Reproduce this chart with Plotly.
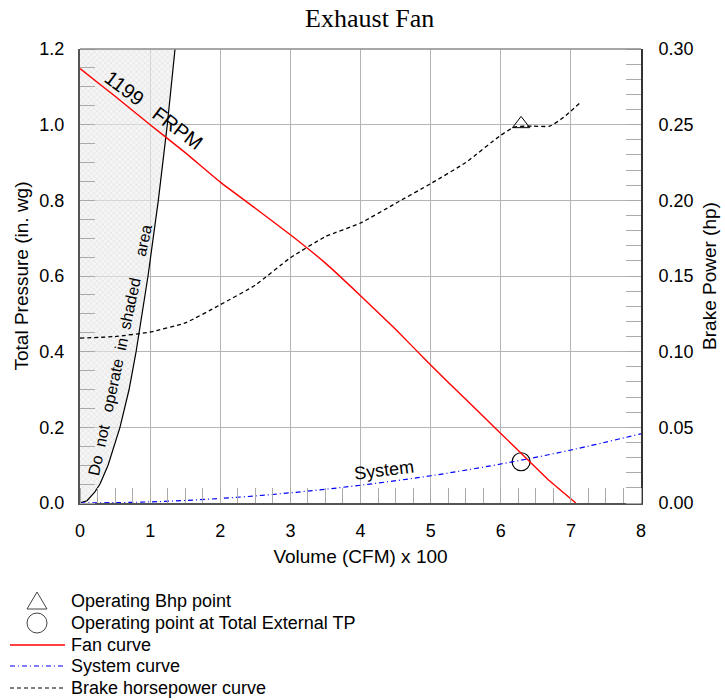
import plotly.graph_objects as go

# ---- data ----
fan_x = [0, 0.5, 1, 1.5, 2, 2.5, 3, 3.5, 4, 4.5, 5, 5.5, 6, 6.4, 6.7, 7.07]
fan_y = [1.148, 1.075, 1.0, 0.926, 0.848, 0.779, 0.709, 0.634, 0.548, 0.459, 0.365, 0.274, 0.184, 0.112, 0.058, 0.0]

sys_x = [0, 1, 2, 3, 4, 5, 6, 7, 8]
sys_y = [0.0, 0.003, 0.012, 0.027, 0.047, 0.072, 0.103, 0.140, 0.183]

bhp_x = [0, 0.5, 1, 1.5, 2, 2.5, 3, 3.5, 4, 4.5, 5, 5.5, 6, 6.2, 6.45, 6.7, 6.9, 7.12]
bhp_y = [0.109, 0.110, 0.113, 0.119, 0.131, 0.144, 0.162, 0.176, 0.185, 0.198, 0.211, 0.225, 0.243, 0.2485, 0.249, 0.249, 0.255, 0.264]

surge_x = [0, 0.1, 0.21, 0.285, 0.4, 0.57, 0.7, 0.8, 0.97, 1.117, 1.245, 1.355]
surge_y = [0, 0.006, 0.029, 0.05, 0.1, 0.2, 0.3, 0.4, 0.6, 0.8, 1.0, 1.2]

op_bhp = (6.29, 0.2505)
op_tp = (6.29, 0.109)

x_ticks = [0, 1, 2, 3, 4, 5, 6, 7, 8]
y_ticks = [0.0, 0.2, 0.4, 0.6, 0.8, 1.0, 1.2]
y2_ticks = [0.0, 0.05, 0.10, 0.15, 0.20, 0.25, 0.30]

legend_labels = ["Operating Bhp point", "Operating point at Total External TP",
                 "Fan curve", "System curve", "Brake horsepower curve"]

FONT = "Liberation Sans, Arial, sans-serif"
AX = "#555555"
GRID = "#b4b4b4"

# plot-area geometry in pixels (for paper-coordinate legend placement)
L, R, T, B = 80, 641, 49, 503
PW, PH = R - L, B - T


def px_x(p):
    return (p - L) / PW


def px_y(p):
    return (B - p) / PH


fig = go.Figure()

# shaded surge region
fig.add_trace(go.Scatter(
    x=surge_x, y=surge_y, mode="lines", fill="tozerox",
    line=dict(color="black", width=1.2),
    fillcolor="rgba(0,0,0,0)",
    fillpattern=dict(shape="x", fgcolor="#c4c4c4", bgcolor="rgba(238,238,238,0.6)", size=4, solidity=0.25),
    showlegend=False, hoverinfo="skip"))

fig.add_trace(go.Scatter(
    x=[op_bhp[0]], y=[op_bhp[1]], yaxis="y2", mode="markers",
    marker=dict(symbol="triangle-up-open", size=15, color="black", line=dict(width=1)),
    name=legend_labels[0], showlegend=False))
fig.add_trace(go.Scatter(
    x=[op_tp[0]], y=[op_tp[1]], mode="markers",
    marker=dict(symbol="circle-open", size=18, color="black", line=dict(width=1.2)),
    name=legend_labels[1], showlegend=False))
fig.add_trace(go.Scatter(
    x=fan_x, y=fan_y, mode="lines", line=dict(color="red", width=1.4, shape="spline", smoothing=0.4),
    name=legend_labels[2], showlegend=False))
fig.add_trace(go.Scatter(
    x=sys_x, y=sys_y, mode="lines", line=dict(color="blue", width=1.2, dash="5px,3px,1px,3px", shape="spline"),
    name=legend_labels[3], showlegend=False))
fig.add_trace(go.Scatter(
    x=bhp_x, y=bhp_y, yaxis="y2", mode="lines",
    line=dict(color="black", width=1.3, dash="4px,3px", shape="spline", smoothing=0.5),
    name=legend_labels[4], showlegend=False))

# ---- manual legend below the chart ----
rows_px = [601, 623, 645, 666, 688]
shapes = []
annotations = []
for lab, ry in zip(legend_labels, rows_px):
    annotations.append(dict(x=px_x(69), y=px_y(ry), xref="paper", yref="paper", text=lab,
                            showarrow=False, xanchor="left", yanchor="middle",
                            font=dict(size=18)))
# triangle symbol
shapes.append(dict(type="path", xref="paper", yref="paper", xsizemode="pixel", ysizemode="pixel",
                   xanchor=px_x(37), yanchor=px_y(rows_px[0]),
                   path="M -10,-8 L 10,-8 L 0,9 Z", line=dict(color="#444444", width=1)))
# circle symbol
shapes.append(dict(type="circle", xref="paper", yref="paper", xsizemode="pixel", ysizemode="pixel",
                   xanchor=px_x(37), yanchor=px_y(rows_px[1]),
                   x0=-10, x1=10, y0=-10, y1=10, line=dict(color="#444444", width=1)))
# line samples
shapes.append(dict(type="line", xref="paper", yref="paper", x0=px_x(10), x1=px_x(65),
                   y0=px_y(rows_px[2]), y1=px_y(rows_px[2]), line=dict(color="red", width=1.4)))
shapes.append(dict(type="line", xref="paper", yref="paper", x0=px_x(10), x1=px_x(65),
                   y0=px_y(rows_px[3]), y1=px_y(rows_px[3]),
                   line=dict(color="blue", width=1.2, dash="5px,3px,1px,3px")))
shapes.append(dict(type="line", xref="paper", yref="paper", x0=px_x(10), x1=px_x(63),
                   y0=px_y(rows_px[4]), y1=px_y(rows_px[4]),
                   line=dict(color="black", width=1.2, dash="4px,3px")))
# lighter top frame line
shapes.append(dict(type="line", xref="paper", yref="paper", x0=0, x1=1, y0=1, y1=1,
                   line=dict(color="#8a8a8a", width=1.5)))

annotations += [
    dict(x=1.05, y=1.04, xref="x", yref="y", text="1199   FRPM", showarrow=False,
         textangle=37, font=dict(size=20)),
    dict(x=0.577, y=0.405, xref="x", yref="y", text="Do  not   operate  in  shaded     area",
         showarrow=False, textangle=-78, font=dict(size=16)),
    dict(x=4.34, y=0.088, xref="x", yref="y", text="System", showarrow=False,
         textangle=-7, font=dict(size=18)),
]

fig.update_layout(
    width=725, height=700,
    margin=dict(l=L, r=725 - R, t=T, b=700 - B, autoexpand=False),
    showlegend=False,
    paper_bgcolor="white", plot_bgcolor="white",
    font=dict(family=FONT, size=18, color="black"),
    title=dict(text="Exhaust Fan", x=0.51, xref="container", y=1 - 18 / 700, yref="container",
               yanchor="middle", font=dict(family="Liberation Serif, Times New Roman, serif", size=26)),
    xaxis=dict(range=[0, 8], tickvals=x_ticks, ticktext=[str(v) for v in x_ticks],
               showgrid=True, gridcolor=GRID, gridwidth=1, zeroline=False,
               showline=True, linecolor=AX, linewidth=2, mirror=False,
               ticks="", ticklabelstandoff=10,
               minor=dict(dtick=0.25, ticks="inside", ticklen=15, tickcolor="#aaaaaa", showgrid=False),
               title=dict(text="Volume (CFM) x 100", font=dict(size=19), standoff=10)),
    yaxis=dict(range=[0, 1.2], tickvals=y_ticks, ticktext=[f"{v:.1f}" for v in y_ticks],
               showgrid=True, gridcolor=GRID, gridwidth=1, zeroline=False,
               showline=True, linecolor=AX, linewidth=2,
               ticks="", ticklabelstandoff=10,
               minor=dict(dtick=0.05, ticks="inside", ticklen=15, tickcolor="#aaaaaa", showgrid=False),
               title=dict(text="Total Pressure (in. wg)", font=dict(size=19), standoff=6)),
    yaxis2=dict(range=[0, 0.3], overlaying="y", side="right", tickvals=y2_ticks,
                ticktext=[f"{v:.2f}" for v in y2_ticks], showgrid=False, zeroline=False,
                showline=True, linecolor="#333333", linewidth=2,
                ticks="", ticklabelstandoff=12,
                minor=dict(dtick=0.01, ticks="inside", ticklen=15, tickcolor="#aaaaaa", showgrid=False),
                title=dict(text="Brake Power (hp)", font=dict(size=19), standoff=10)),
    shapes=shapes,
    annotations=annotations,
)

fig.write_html("out.html")
